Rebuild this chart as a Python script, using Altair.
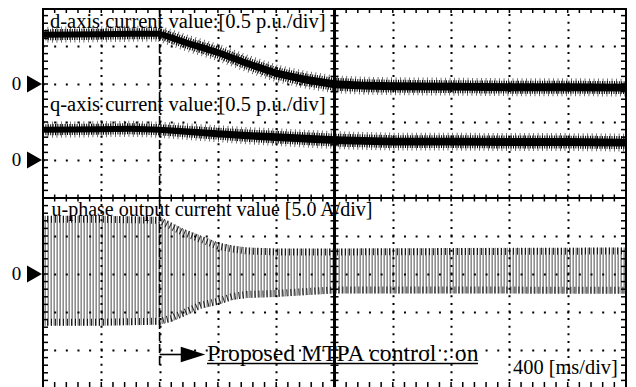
import altair as alt
import pandas as pd

# ---------------- values ----------------
MS_PER_DIV = 400            # 400 [ms/div]
D_PU_PER_DIV = 0.5          # d-axis current, 0.5 p.u./div
Q_PU_PER_DIV = 0.5          # q-axis current, 0.5 p.u./div
U_A_PER_DIV = 5.0           # u-phase current, 5.0 A/div
D_ZERO_DIV = 3              # channel zero markers (divisions above screen centre)
Q_ZERO_DIV = 1
U_ZERO_DIV = -2
T_ON = 800                  # MTPA control switched on [ms]

# d-axis current (trace centre and ripple half-width) [p.u.]
d_time = [0, 400, 600, 800, 900, 1000, 1100, 1200, 1400, 1600, 1800, 2000, 2200, 2400, 2800, 3200, 3600, 4000]
d_value = [0.648, 0.655, 0.661, 0.661, 0.596, 0.531, 0.473, 0.414, 0.271, 0.141, 0.056, -0.003, -0.022, -0.029, -0.035, -0.042, -0.042, -0.048]
d_ripple = [0.040, 0.040, 0.040, 0.040, 0.044, 0.045, 0.046, 0.047, 0.048, 0.050, 0.051, 0.052, 0.052, 0.052, 0.052, 0.052, 0.052, 0.052]

# q-axis current [p.u.]
q_time = [0, 400, 600, 800, 1000, 1200, 1400, 1600, 1800, 2000, 2400, 2800, 3200, 3600, 4000]
q_value = [0.398, 0.405, 0.411, 0.398, 0.372, 0.346, 0.320, 0.301, 0.281, 0.262, 0.242, 0.242, 0.236, 0.236, 0.229]
q_ripple = [0.040, 0.040, 0.040, 0.040, 0.044, 0.046, 0.048, 0.050, 0.051, 0.052, 0.052, 0.052, 0.052, 0.052, 0.052]

# u-phase output current: positive / negative peak envelope [A]
u_time = [0, 400, 800, 880, 960, 1080, 1200, 1300, 1400, 1600, 2000, 4000]
u_peak_pos = [7.66, 7.66, 7.53, 6.74, 5.96, 5.05, 4.14, 3.75, 3.49, 3.36, 3.36, 3.49]
u_peak_neg = [-6.80, -6.80, -6.67, -6.28, -5.62, -4.58, -4.06, -3.41, -3.15, -3.02, -2.55, -2.60]
u_dc_offset = 0.5           # small DC offset of the u-phase trace [A]

# screen graticule: 10 x 10 divisions, 5 minor marks per division
x_major = [400, 800, 1200, 1600, 2400, 2800, 3200, 3600]
y_major = [-4, -3, -2, -1, 1, 2, 3, 4]
x_minor = [i * 80 for i in range(51)]
y_minor = [-5 + i * 0.2 for i in range(51)]

labels = {
    "d": "d-axis current value:[0.5 p.u./div]",
    "q": "q-axis current value:[0.5 p.u./div]",
    "u": "u-phase output current value [5.0 A/div]",
    "on": "Proposed MTPA control : on",
    "time": "400 [ms/div]",
}

# ---------------- layout ----------------
W, H = 583, 379
PX_DIV = 38.0
Y_BOTTOM = 5 - H / PX_DIV
CX = W / 2
CY = 5 * PX_DIV
FONT = "Liberation Serif"

XS = alt.Scale(domain=[0, 4000], nice=False, zero=False)
YS = alt.Scale(domain=[Y_BOTTOM, 5], nice=False, zero=False)
X_AX = alt.Axis(orient="top", values=x_major, grid=True, gridColor="black", gridWidth=2,
                gridDash=[2, 5.6], gridDashOffset=1, labels=False, ticks=False, domain=False,
                title="", zindex=1)
Y_AX = alt.Axis(orient="left", values=y_major, grid=True, gridColor="black", gridWidth=2,
                gridDash=[2, 9.66], gridDashOffset=1, labels=False, ticks=False, domain=False,
                title="", zindex=1)


def X(f):
    return alt.X(f, type="quantitative", scale=XS, axis=X_AX)


def Y(f):
    return alt.Y(f, type="quantitative", scale=YS, axis=Y_AX)


d_df = pd.DataFrame({"t": d_time})
d_df["mid"] = [D_ZERO_DIV + v / D_PU_PER_DIV for v in d_value]
d_df["lo"] = [m - r / D_PU_PER_DIV for m, r in zip(d_df["mid"], d_ripple)]
d_df["hi"] = [m + r / D_PU_PER_DIV for m, r in zip(d_df["mid"], d_ripple)]

q_df = pd.DataFrame({"t": q_time})
q_df["mid"] = [Q_ZERO_DIV + v / Q_PU_PER_DIV for v in q_value]
q_df["lo"] = [m - r / Q_PU_PER_DIV for m, r in zip(q_df["mid"], q_ripple)]
q_df["hi"] = [m + r / Q_PU_PER_DIV for m, r in zip(q_df["mid"], q_ripple)]

u_df = pd.DataFrame({"t": u_time})
u_df["hi"] = [U_ZERO_DIV + v / U_A_PER_DIV for v in u_peak_pos]
u_df["lo"] = [U_ZERO_DIV + v / U_A_PER_DIV for v in u_peak_neg]
u_mid = pd.DataFrame({"y": [U_ZERO_DIV + u_dc_offset / U_A_PER_DIV]})

layers = []

# u-phase waveform band (grey strokes with white gaps, dark peaks)
layers.append(alt.Chart(u_df).mark_area(color="#8e8e8e").encode(x=X("t"), y=Y("lo"), y2="hi"))
layers.append(alt.Chart(u_mid).mark_rule(color="white", strokeWidth=118, strokeDash=[1.4, 1.6]).encode(
    y=Y("y"), x=alt.value(0), x2=alt.value(W)))
layers.append(alt.Chart(u_df).mark_line(color="black", strokeWidth=7, strokeDash=[1, 3], yOffset=3.5, opacity=0.85).encode(x=X("t"), y=Y("hi")))
layers.append(alt.Chart(u_df).mark_line(color="black", strokeWidth=7, strokeDash=[1, 3], yOffset=-3.5, opacity=0.85).encode(x=X("t"), y=Y("lo")))

# d and q traces
for df in (d_df, q_df):
    layers.append(alt.Chart(df).mark_area(color="black").encode(x=X("t"), y=Y("lo"), y2="hi"))
    for edge in ("hi", "lo"):
        layers.append(alt.Chart(df).mark_line(color="black", strokeWidth=5, strokeDash=[1, 1.4]).encode(x=X("t"), y=Y(edge)))
        layers.append(alt.Chart(df).mark_line(color="black", strokeWidth=10, strokeDash=[0.8, 3.7], opacity=0.7).encode(x=X("t"), y=Y(edge)))

# graticule: centre cross with ticks
xm = pd.DataFrame({"t": x_minor})
ym = pd.DataFrame({"y": y_minor})
layers.append(alt.Chart(xm).mark_rule(color="black", strokeWidth=2).encode(
    x=alt.value(CX), y=alt.value(0), y2=alt.value(H)))
layers.append(alt.Chart(xm).mark_rule(color="black", strokeWidth=2).encode(
    y=alt.value(CY), x=alt.value(0), x2=alt.value(W)))
layers.append(alt.Chart(ym).mark_rule(color="black", strokeWidth=1.5).encode(
    y=Y("y"), x=alt.value(CX - 4), x2=alt.value(CX + 4)))
layers.append(alt.Chart(xm).mark_rule(color="black", strokeWidth=1.5).encode(
    x=X("t"), y=alt.value(CY - 3.5), y2=alt.value(CY + 3.5)))
# border with inward ticks
layers.append(alt.Chart(xm).mark_rule(color="black", strokeWidth=2).encode(
    x=alt.value(0), y=alt.value(0), y2=alt.value(H)))
layers.append(alt.Chart(xm).mark_rule(color="black", strokeWidth=2).encode(
    x=alt.value(W), y=alt.value(0), y2=alt.value(H)))
layers.append(alt.Chart(xm).mark_rule(color="black", strokeWidth=2).encode(
    y=alt.value(1), x=alt.value(0), x2=alt.value(W)))
layers.append(alt.Chart(ym).mark_rule(color="black", strokeWidth=1.5).encode(
    y=Y("y"), x=alt.value(0), x2=alt.value(5)))
layers.append(alt.Chart(ym).mark_rule(color="black", strokeWidth=1.5).encode(
    y=Y("y"), x=alt.value(W - 5), x2=alt.value(W)))
layers.append(alt.Chart(xm).mark_rule(color="black", strokeWidth=1.5).encode(
    x=X("t"), y=alt.value(0), y2=alt.value(5)))
layers.append(alt.Chart(xm).mark_rule(color="black", strokeWidth=1.5).encode(
    x=X("t"), y=alt.value(374), y2=alt.value(381)))

# switching instant marker and arrow
on_df = pd.DataFrame({"t": [T_ON]})
layers.append(alt.Chart(on_df).mark_rule(color="black", strokeWidth=1.6, strokeDash=[9, 3]).encode(
    x=X("t"), y=alt.value(0), y2=alt.value(359)))
layers.append(alt.Chart(on_df).mark_rule(color="black", strokeWidth=1.6).encode(
    x=X("t"), x2=alt.value(142), y=alt.value(346.5)))
layers.append(alt.Chart(on_df).mark_point(shape="M-1,-0.64L1,0L-1,0.64Z", size=600, filled=True,
                                          color="black", opacity=1).encode(
    x=alt.value(150), y=alt.value(346.5)))

# channel zero markers
z_df = pd.DataFrame({"y": [D_ZERO_DIV, Q_ZERO_DIV, U_ZERO_DIV], "label": ["0", "0", "0"]})
layers.append(alt.Chart(z_df).mark_text(font=FONT, fontSize=19, color="black", baseline="middle", align="center").encode(
    x=alt.value(-26.5), y=Y("y"), text="label:N"))
layers.append(alt.Chart(z_df).mark_point(shape="M-0.88,-1L0.88,0L-0.88,1Z", size=289, filled=True,
                                         color="black", opacity=1).encode(
    x=alt.value(-8.5), y=Y("y")))


def label(key, x, y, size):
    return alt.Chart(pd.DataFrame({"label": [labels[key]]})).mark_text(
        font=FONT, fontSize=size, color="black", align="left", baseline="alphabetic").encode(
        x=alt.value(x), y=alt.value(y), text="label:N")


layers.append(label("d", 7, 20, 20.5))
layers.append(label("q", 7, 103, 20.5))
layers.append(label("u", 8.5, 208, 20))
layers.append(label("on", 164, 353, 23.7))
layers.append(label("time", 470, 366, 20.4))
layers.append(alt.Chart(on_df).mark_rule(color="black", strokeWidth=1.5).encode(
    x=alt.value(164), x2=alt.value(435), y=alt.value(355.5)))

chart = alt.layer(*layers).properties(
    width=W, height=H,
    autosize=alt.AutoSizeParams(type="none"),
    padding={"left": 35, "top": 0, "right": 1, "bottom": 0},
    background="white",
).configure_view(strokeWidth=0)

chart.save("out.html", embed_options={"renderer": "svg", "actions": False})
